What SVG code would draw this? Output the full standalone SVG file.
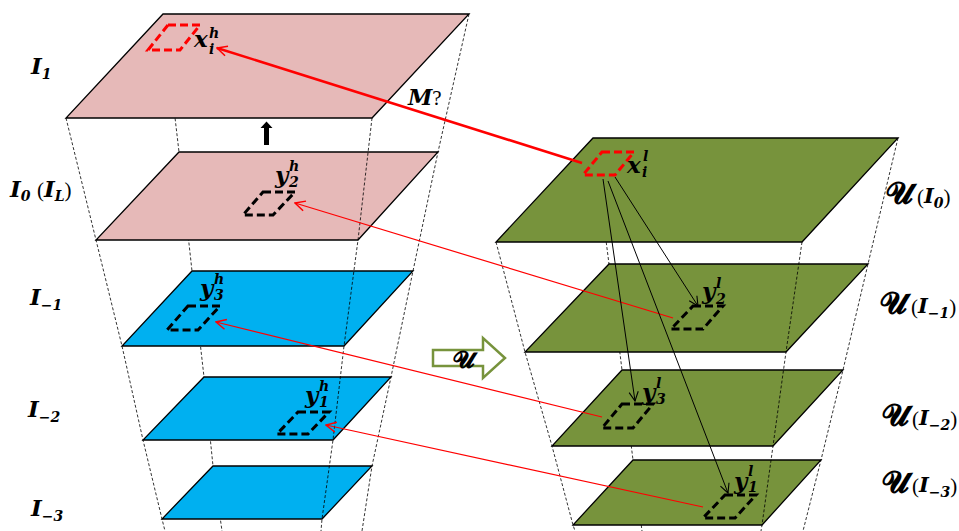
<svg xmlns="http://www.w3.org/2000/svg" width="959" height="531" viewBox="0 0 959 531">
<defs>
<style>
.guide{fill:none;stroke:#000;stroke-width:0.8;stroke-dasharray:3 2}
.plane{stroke:#000;stroke-width:1.3;stroke-linejoin:miter}
.pink{fill:#E6B9B8}
.blue{fill:#00B0F0}
.green{fill:#77933C}
.patch{fill:none;stroke-width:3;stroke-dasharray:8 4}
.pk{stroke:#000}
.pr{stroke:#FF0000}
.m{font-family:"DejaVu Serif","Liberation Serif",serif;font-style:italic;font-weight:bold;fill:#000}
.up{font-family:"Liberation Serif","DejaVu Serif",serif;font-style:normal;font-weight:normal}
.scr{font-family:"DejaVu Sans","Noto Sans","DejaVu Serif",serif;font-style:normal;font-weight:bold;font-size:30px}
.sub{font-size:14px}
.redline{fill:none;stroke:#FF0000}
.blkline{fill:none;stroke:#000;stroke-width:1}
</style>
<marker id="ahRed" viewBox="0 0 12 12" refX="11" refY="6" markerWidth="12" markerHeight="12" markerUnits="userSpaceOnUse" orient="auto">
<path d="M1,1 L11,6 L1,11" fill="none" stroke="#FF0000" stroke-width="1.5"/>
</marker>
<marker id="ahBlk" viewBox="0 0 12 12" refX="11" refY="6" markerWidth="11" markerHeight="11" markerUnits="userSpaceOnUse" orient="auto">
<path d="M1,1 L11,6 L1,11" fill="none" stroke="#000" stroke-width="1.2"/>
</marker>
</defs>
<rect width="959" height="531" fill="#fff"/>

<g id="guides-back">
<polyline class="guide" points="163,14 179,152 192,271 204,377 213,466 222,531"/>
<polyline class="guide" points="593,138 609,264 622,370 633,460 642,531"/>
</g>

<g id="plane-I1"><polygon class="plane pink" points="163,14 469,14 372,118 66,118"/></g>
<g id="plane-I0"><polygon class="plane pink" points="179,152 438,152 358,240 96,240"/></g>
<g id="plane-Im1"><polygon class="plane blue" points="192,271 413,271 344,346 122,346"/></g>
<g id="plane-Im2"><polygon class="plane blue" points="204,377 391,377 333,440 143,440"/></g>
<g id="plane-Im3"><polygon class="plane blue" points="213,466 372,466 322,519 162,519"/></g>
<g id="plane-U0"><polygon class="plane green" points="593,138 898,138 802,242 496,242"/></g>
<g id="plane-Um1"><polygon class="plane green" points="609,264 868,264 786,352 525,352"/></g>
<g id="plane-Um2"><polygon class="plane green" points="622,370 843,370 773,446 552,446"/></g>
<g id="plane-Um3"><polygon class="plane green" points="633,460 821,460 762,525 573,525"/></g>

<g id="guides-front">
<polyline class="guide" points="66,118 96,240 122,346 143,440 162,519 165,531"/>
<polyline class="guide" points="372,118 358,240 344,346 333,440 322,519 321,531"/>
<polyline class="guide" points="469,14 438,152 413,271 391,377 372,466 362,531"/>
<polyline class="guide" points="496,242 525,352 552,446 573,525 575,531"/>
<polyline class="guide" points="802,242 786,352 773,446 762,525 761,531"/>
<polyline class="guide" points="898,138 868,264 843,370 821,460 803,531"/>
</g>

<g id="patch-xh"><polygon class="patch pr" points="168,25 200,25 180,50 148,50"/>
<text class="m" font-size="23"><tspan x="194" y="47">x</tspan><tspan class="sub" x="209" y="38">h</tspan><tspan class="sub" x="209" y="54">i</tspan></text></g>
<g id="patch-y2h"><polygon class="patch pk" points="263,192 295,192 273,215 243,215"/>
<text class="m" font-size="23"><tspan x="275" y="183">y</tspan><tspan class="sub" x="289" y="171">h</tspan><tspan class="sub" x="289" y="187">2</tspan></text></g>
<g id="patch-y3h"><polygon class="patch pk" points="188,306 220,306 198,330 167,330"/>
<text class="m" font-size="23"><tspan x="200" y="296">y</tspan><tspan class="sub" x="214" y="284">h</tspan><tspan class="sub" x="214" y="300">3</tspan></text></g>
<g id="patch-y1h"><polygon class="patch pk" points="298,412 329,412 308,434 277,434"/>
<text class="m" font-size="23"><tspan x="305" y="403">y</tspan><tspan class="sub" x="319" y="391">h</tspan><tspan class="sub" x="319" y="407">1</tspan></text></g>

<g id="patch-xl"><polygon class="patch pr" points="602,152 634,152 615,175 583,175"/>
<text class="m" font-size="23"><tspan x="627" y="173">x</tspan><tspan class="sub" x="643" y="161">l</tspan><tspan class="sub" x="642" y="177">i</tspan></text></g>
<g id="patch-y2l"><polygon class="patch pk" points="693,306 723,306 703,329 671,329"/>
<text class="m" font-size="23"><tspan x="702" y="299">y</tspan><tspan class="sub" x="716" y="288">l</tspan><tspan class="sub" x="716" y="304">2</tspan></text></g>
<g id="patch-y3l"><polygon class="patch pk" points="622,404 653,404 633,428 602,428"/>
<text class="m" font-size="23"><tspan x="642" y="400">y</tspan><tspan class="sub" x="656" y="388">l</tspan><tspan class="sub" x="656" y="404">3</tspan></text></g>
<g id="patch-y1l"><polygon class="patch pk" points="725,495 756,495 735,518 703,518"/>
<text class="m" font-size="23"><tspan x="734" y="489">y</tspan><tspan class="sub" x="748" y="476">l</tspan><tspan class="sub" x="748" y="492">1</tspan></text></g>

<g id="labels-left">
<text class="m" font-size="23" x="31" y="74">I<tspan class="sub" dy="5" font-size="15">1</tspan></text>
<text class="m" font-size="23" x="10" y="197">I<tspan class="sub" dy="4" font-size="15">0</tspan><tspan class="up" x="37" y="197" font-size="21">(</tspan><tspan x="44" y="197">I</tspan><tspan class="sub" dy="4" font-size="15">L</tspan><tspan class="up" font-size="21" dy="-4">)</tspan></text>
<text class="m" font-size="23" x="30" y="305">I<tspan class="sub" dy="5" font-size="15">−1</tspan></text>
<text class="m" font-size="23" x="28" y="417">I<tspan class="sub" dy="5" font-size="15">−2</tspan></text>
<text class="m" font-size="23" x="31" y="516">I<tspan class="sub" dy="5" font-size="15">−3</tspan></text>
</g>

<g id="labels-right">
<text class="m" font-size="21"><tspan class="scr" x="886" y="203">𝓤</tspan><tspan class="up" x="917" y="204">(</tspan><tspan y="203">I</tspan><tspan class="sub" dy="5">0</tspan><tspan class="up" dy="-4">)</tspan></text>
<text class="m" font-size="21"><tspan class="scr" x="880" y="313">𝓤</tspan><tspan class="up" x="911" y="314">(</tspan><tspan y="313">I</tspan><tspan class="sub" dy="5">−1</tspan><tspan class="up" dy="-4">)</tspan></text>
<text class="m" font-size="21"><tspan class="scr" x="882" y="425">𝓤</tspan><tspan class="up" x="912" y="426">(</tspan><tspan y="425">I</tspan><tspan class="sub" dy="5">−2</tspan><tspan class="up" dy="-4">)</tspan></text>
<text class="m" font-size="21"><tspan class="scr" x="882" y="492">𝓤</tspan><tspan class="up" x="912" y="493">(</tspan><tspan y="492">I</tspan><tspan class="sub" dy="5">−3</tspan><tspan class="up" dy="-4">)</tspan></text>
</g>

<g id="upsample-arrow"><polygon points="264,145 264,128 260.5,128 266.5,121.5 272.5,128 269,128 269,145" fill="#000"/></g>

<g id="transform-arrow">
<polygon points="433,350 483,350 483,338 505,358 483,378 483,366 433,366" fill="#fff" stroke="#77933C" stroke-width="2.5" stroke-linejoin="miter"/>
<text class="m"><tspan class="scr" x="453" y="368" style="font-size:24px">𝓤</tspan></text>
</g>

<g id="connectors">
<line class="redline" stroke-width="2.5" x1="582" y1="163" x2="217" y2="48" marker-end="url(#ahRed)"/>
<line class="redline" stroke-width="1.2" x1="673" y1="318" x2="295" y2="203" marker-end="url(#ahRed)"/>
<line class="redline" stroke-width="1.2" x1="602" y1="417" x2="216" y2="322" marker-end="url(#ahRed)"/>
<line class="redline" stroke-width="1.2" x1="703" y1="507" x2="326" y2="425" marker-end="url(#ahRed)"/>
<line class="blkline" x1="615" y1="177" x2="698" y2="306" marker-end="url(#ahBlk)"/>
<line class="blkline" x1="603" y1="179" x2="635" y2="401" marker-end="url(#ahBlk)"/>
<line class="blkline" x1="608" y1="181" x2="728" y2="493" marker-end="url(#ahBlk)"/>
<text class="m" font-size="22"><tspan x="408" y="105">M</tspan><tspan class="up" font-size="21">?</tspan></text>
</g>
</svg>
